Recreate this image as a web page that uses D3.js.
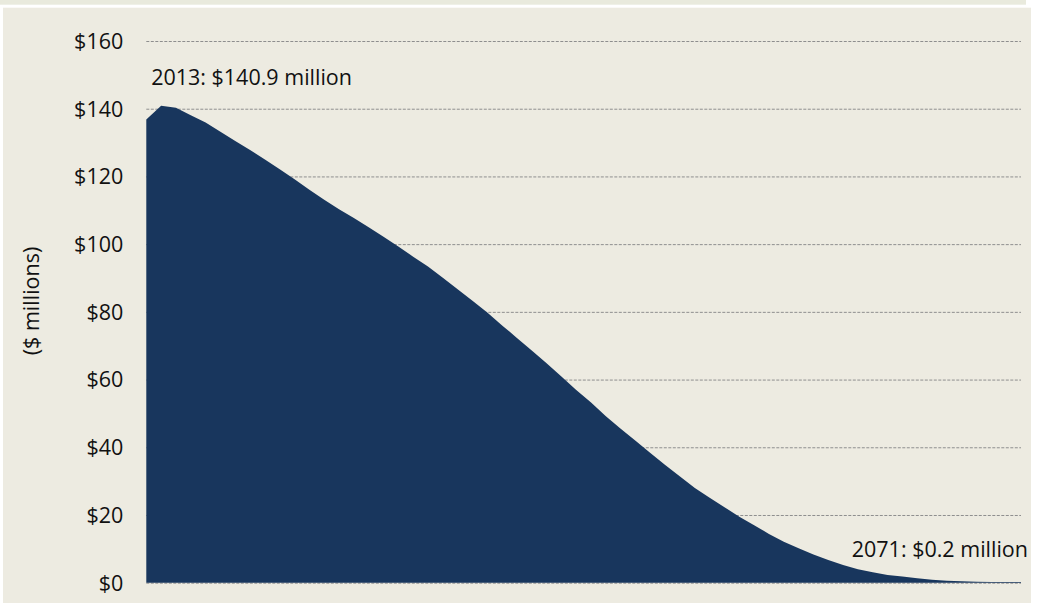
<!DOCTYPE html>
<html>
<head>
<meta charset="utf-8">
<script src="https://cdn.jsdelivr.net/npm/d3@7"></script>
<style>
  body { margin: 0; background: #ffffff; }
  svg { display: block; font-family: "Open Sans", sans-serif; }
  .yAxis .domain { display: none; }
  .yAxis .tick line { stroke: #8e8e8e; stroke-dasharray: 3,1.5; }
  .yAxis .tick text { font-size: 21.5px; fill: #111; font-family: "Open Sans", sans-serif; }
</style>
</head>
<body>
<div id="chart"></div>
<script>
// data
var years = d3.range(2012, 2072);
var values = [
  136.8, 140.9, 140.3, 138.1, 135.9, 133.2, 130.5, 127.8, 125.0, 122.1,
  119.2, 116.1, 113.1, 110.3, 107.7, 105.0, 102.2, 99.3, 96.3, 93.4,
  90.1, 86.7, 83.3, 79.8, 76.0, 72.3, 68.6, 64.8, 60.9, 56.9,
  53.2, 49.2, 45.5, 41.9, 38.3, 34.8, 31.4, 28.0, 25.1, 22.3,
  19.5, 17.0, 14.4, 12.1, 10.2, 8.3, 6.7, 5.2, 4.0, 3.1,
  2.3, 1.8, 1.3, 0.9, 0.6, 0.4, 0.3, 0.2, 0.2, 0.2
];
var yTicks = [0, 20, 40, 60, 80, 100, 120, 140, 160];
var yTitle = '($ millions)';
var startLabel = '2013: $140.9 million';
var endLabel = '2071: $0.2 million';

var data = years.map(function(y, i) { return {year: y, value: values[i]}; });

// canvas
const width = 1039;
const height = 603;
const margin = {top: 41, right: 18, bottom: 20.3, left: 146.3};
const fontSize = '21.5px';

var svg = d3.select('#chart')
  .append('svg')
    .attr('width', width)
    .attr('height', height);

// background panels
svg.append('rect')
  .attr('x', 0).attr('y', 0)
  .attr('width', 1026).attr('height', 4.7)
  .style('fill', '#e9eadd');
svg.append('rect')
  .attr('x', 3).attr('y', 7.7)
  .attr('width', 1028).attr('height', height - 7.7)
  .style('fill', '#edebe1');

var x = d3.scaleLinear()
  .domain([d3.min(years), d3.max(years)])
  .range([margin.left, width - margin.right]);
var y = d3.scaleLinear()
  .domain([0, 160])
  .range([height - margin.bottom, margin.top]);

// gridlines + labels
var yAxis = d3.axisLeft(y)
  .tickValues(yTicks)
  .tickSize(-(x.range()[1] - x.range()[0]))
  .tickPadding(23)
  .tickFormat(d => '$' + d);

svg.append('g')
  .attr('class', 'yAxis')
  .attr('transform', `translate(${margin.left}, 0)`)
  .call(yAxis)
  .attr('font-family', null)
  .attr('font-size', null)
  .selectAll('.tick text')
  .attr('dy', '0.34em');

// area
var area = d3.area()
  .x(d => x(d.year))
  .y0(y(0))
  .y1(d => y(d.value));

svg.append('path')
  .datum(data)
  .attr('d', area)
  .style('fill', '#18365d');

// axis title
svg.append('text')
  .attr('transform', 'translate(39, 301) rotate(-90)')
  .style('text-anchor', 'middle')
  .style('font-size', fontSize)
  .style('fill', '#111')
  .text(yTitle);

// annotations
svg.append('text')
  .attr('x', x(2013) - 10)
  .attr('y', y(140.9) - 21)
  .style('font-size', fontSize)
  .style('fill', '#111')
  .text(startLabel);

svg.append('text')
  .attr('x', x(2071) + 7)
  .attr('y', y(0.2) - 25)
  .style('text-anchor', 'end')
  .style('font-size', fontSize)
  .style('fill', '#111')
  .text(endLabel);
</script>
</body>
</html>
